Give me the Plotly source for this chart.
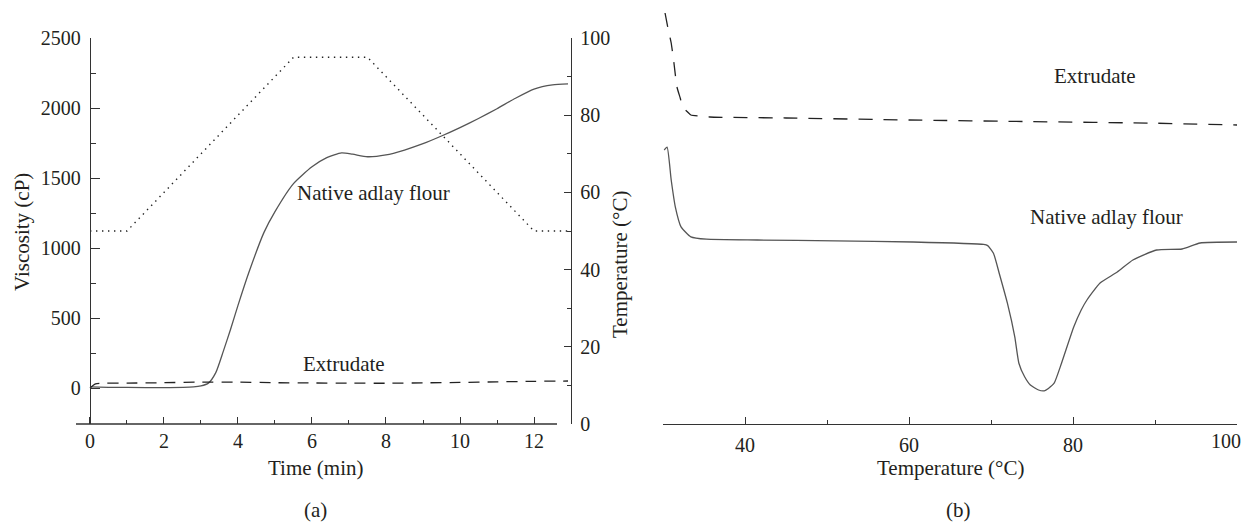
import plotly.graph_objects as go

# Target picture size and the default 8px page margin of the browser body
W0, H0 = 1251, 523
OFF = 8
W, H = W0 - OFF, H0 - OFF

# ---------------- Panel (a): RVA pasting profile ----------------
time_native = [0, 0.5, 1, 2, 2.8, 3.0, 3.2, 3.4, 3.6, 3.8, 4.0, 4.3, 4.7, 5.0, 5.5, 6.0,
               6.4, 6.8, 7.1, 7.5, 8.0, 8.5, 9.0, 9.5, 10.0, 10.5, 11.0, 11.5, 12.0, 12.5, 12.92]
visc_native = [8, 5, 4, 3, 8, 15, 35, 110, 260, 420, 590, 830, 1110, 1260, 1460, 1580,
               1645, 1680, 1670, 1652, 1665, 1700, 1745, 1800, 1860, 1925, 1995, 2070, 2135, 2165, 2172]

time_extr = [0, 0.15, 1, 2, 3, 4, 5, 6, 7, 8, 9, 10, 11, 12, 12.92]
visc_extr = [0, 30, 35, 38, 42, 42, 38, 36, 35, 34, 37, 40, 44, 48, 50]

time_temp = [0, 1.0, 5.5, 7.5, 12.0, 12.92]
temp_profile = [50, 50, 95, 95, 50, 50]

# ---------------- Panel (b): DSC thermograms (arbitrary heat-flow units) ----------------
dsc_temp_native = [30.15, 30.5, 31.0, 31.5, 32.2, 33.4, 35.3, 41.5, 51, 60.5, 69.1, 69.6, 70.3, 71.0,
                   72.0, 72.9, 73.4, 74.1, 74.8, 75.8, 76.5, 77.0, 77.7, 78.6, 80.1, 81.0, 81.7,
                   83.3, 85.4, 87.3, 90.2, 93.3, 95.5, 100]
dsc_native = [68.5, 69.2, 61, 54.3, 49.3, 46.8, 46.2, 46, 45.8, 45.5, 44.9, 44.6, 42.7, 37.7,
              30.2, 21.8, 15.2, 11.8, 9.75, 8.5, 8.3, 8.9, 10.2, 15.2, 24.3, 28.5, 31,
              35.25, 38, 41, 43.5, 43.75, 45.25, 45.5]

dsc_temp_extr = [30.25, 30.6, 31.0, 31.35, 31.7, 32.1, 32.4, 33.0, 33.4, 34.5, 35.7, 45, 60, 75, 90, 100]
dsc_extr = [102.75, 99, 95.25, 90, 84.25, 81.5, 79.25, 78, 77.25, 77, 76.75, 76.5, 76, 75.6, 75.2, 74.75]

dsc_ticks = [40, 60, 80, 100]
dsc_ticklabels = ["40", "60", "80", "100"]

FONT = "Liberation Serif, DejaVu Serif, serif"
TXT = "#231f20"
LINE = "#555555"
AX = "#333333"
FS_TICK = 20
FS_TEXT = 21


def fx(p):
    return (p - OFF) / W


def fy(p):
    return 1 - (p - OFF) / H


fig = go.Figure()

fig.add_trace(go.Scatter(x=time_native, y=visc_native, mode="lines",
                         line=dict(color=LINE, width=1.3, shape="spline", smoothing=0.6),
                         xaxis="x", yaxis="y", showlegend=False))
fig.add_trace(go.Scatter(x=time_extr, y=visc_extr, mode="lines",
                         line=dict(color="#222222", width=1.3, dash="11px,8px", shape="spline", smoothing=0.6),
                         xaxis="x", yaxis="y", showlegend=False))
fig.add_trace(go.Scatter(x=time_temp, y=temp_profile, mode="lines",
                         line=dict(color="#222222", width=1.4, dash="1.4px,4.6px"),
                         xaxis="x", yaxis="y2", showlegend=False))

fig.add_trace(go.Scatter(x=dsc_temp_native, y=dsc_native, mode="lines",
                         line=dict(color=LINE, width=1.3, shape="spline", smoothing=0.5),
                         xaxis="x2", yaxis="y3", showlegend=False))
fig.add_trace(go.Scatter(x=dsc_temp_extr, y=dsc_extr, mode="lines",
                         line=dict(color="#222222", width=1.3, dash="14px,11px", shape="spline", smoothing=0.5),
                         xaxis="x2", yaxis="y3", showlegend=False))
# empty trace that registers the overlay axis holding the last tick label
fig.add_trace(go.Scatter(x=[], y=[], mode="lines", xaxis="x3", yaxis="y3",
                         showlegend=False, hoverinfo="skip"))

tickfont = dict(family=FONT, size=FS_TICK, color=TXT)
common = dict(ticks="inside", tickcolor=AX, linecolor=AX, linewidth=1.3, tickwidth=1.3,
              showgrid=False, zeroline=False, tickfont=tickfont, automargin=False,
              ticklabeloverflow="allow")

fig.update_layout(
    template="none",
    width=W, height=H,
    autosize=False,
    margin=dict(l=0, r=0, t=0, b=0, pad=0, autoexpand=False),
    paper_bgcolor="white", plot_bgcolor="rgba(0,0,0,0)",
    xaxis=dict(domain=[fx(76), fx(571)], range=[-0.378, 13.0], anchor="y",
               tick0=0, dtick=2, ticklen=7, showline=False,
               minor=dict(dtick=1, ticklen=4, ticks="inside", tickcolor=AX, tickwidth=1.3),
               ticklabelstandoff=3, **common),
    yaxis=dict(domain=[fy(424), fy(38)], range=[-257, 2500], anchor="free", position=fx(90),
               tick0=0, dtick=500, ticklen=9, showline=True,
               minor=dict(dtick=250, ticklen=5, ticks="inside", tickcolor=AX, tickwidth=1.3),
               ticklabelstandoff=5, **common),
    yaxis2=dict(overlaying="y", side="right", range=[0, 100], anchor="free", position=fx(571),
                tick0=0, dtick=20, ticklen=7, showline=True,
                minor=dict(dtick=10, ticklen=4, ticks="inside", tickcolor=AX, tickwidth=1.3),
                ticklabelstandoff=4, **common),
    xaxis2=dict(domain=[fx(663), fx(1237)], range=[30, 100], anchor="y3",
                tickvals=dsc_ticks, ticktext=dsc_ticklabels[:-1] + [""],
                ticklen=7, showline=True,
                minor=dict(dtick=10, ticklen=4, ticks="inside", tickcolor=AX, tickwidth=1.3),
                ticklabelstandoff=3, **common),
    # overlay axis carrying only the last label, nudged left so it stays inside the page
    xaxis3=dict(overlaying="x2", anchor="y3", range=[30, 100], side="bottom",
                tickvals=dsc_ticks[-1:], ticktext=dsc_ticklabels[-1:],
                ticks="", showline=False, showgrid=False, zeroline=False,
                tickfont=tickfont, automargin=False, ticklabeloverflow="allow",
                ticklabelshift=-11, ticklabelstandoff=3),
    yaxis3=dict(domain=[fy(424), fy(9)], range=[0, 103.75], anchor="x2", visible=False,
                automargin=False),
    shapes=[dict(type="line", xref="paper", yref="paper", x0=fx(76), x1=fx(557),
                 y0=fy(424), y1=fy(424), line=dict(color=AX, width=1.3))],
)

ann_font = dict(family=FONT, size=FS_TEXT, color=TXT)
annotations = [
    dict(text="Native adlay flour", x=fx(373), y=fy(193)),
    dict(text="Extrudate", x=fx(344), y=fy(364)),
    dict(text="Extrudate", x=fx(1095), y=fy(76)),
    dict(text="Native adlay flour", x=fx(1106), y=fy(217)),
    dict(text="Time (min)", x=fx(315), y=fy(468)),
    dict(text="(a)", x=fx(315), y=fy(510)),
    dict(text="Temperature (°C)", x=fx(950), y=fy(468)),
    dict(text="(b)", x=fx(958), y=fy(510)),
    dict(text="Viscosity (cP)", x=fx(22), y=fy(232), textangle=-90),
    dict(text="Temperature (°C)", x=fx(620), y=fy(265), textangle=-90),
]
for a in annotations:
    a.update(xref="paper", yref="paper", showarrow=False, font=ann_font,
             xanchor="center", yanchor="middle")
fig.update_layout(annotations=annotations)

fig.write_html("out.html")
